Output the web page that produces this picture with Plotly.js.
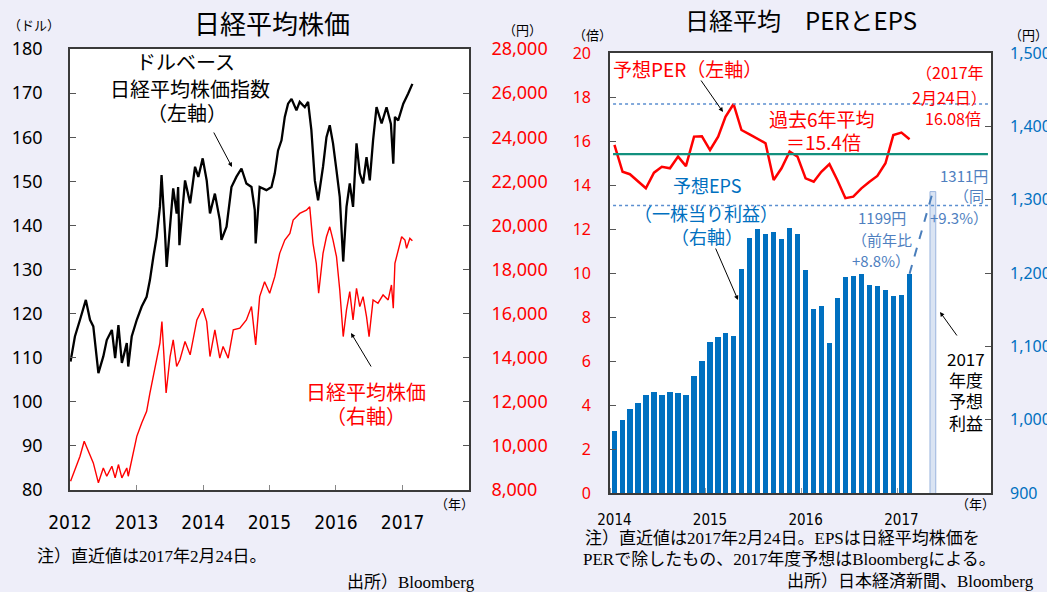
<!DOCTYPE html>
<html><head><meta charset="utf-8">
<script src="https://cdn.plot.ly/plotly-3.0.1.min.js"></script>
<style>html,body{margin:0;padding:0;background:#eeeef9;}#chart{width:1047px;height:592px;}</style>
</head><body><div id="chart"></div>
<script>
// ---------- Left chart: 日経平均株価 ----------
const usdDates = ['2012-01-04','2012-01-28','2012-02-25','2012-03-28','2012-04-20','2012-05-08','2012-06-05','2012-07-02','2012-07-21','2012-08-18','2012-09-05','2012-09-23','2012-10-12','2012-11-08','2012-11-16','2012-12-05',
'2013-01-02','2013-01-29','2013-02-25','2013-03-15','2013-04-03','2013-04-21','2013-05-09','2013-05-18','2013-06-06','2013-06-15','2013-07-21','2013-08-09','2013-08-17','2013-08-24','2013-09-24','2013-10-22','2013-11-18','2013-12-06','2013-12-30',
'2014-01-21','2014-02-08','2014-03-07','2014-04-03','2014-04-12','2014-05-10','2014-06-06','2014-07-03','2014-07-31','2014-08-27','2014-09-24','2014-10-12','2014-10-17','2014-11-08','2014-12-15',
'2015-01-12','2015-01-30','2015-02-17','2015-03-08','2015-03-26','2015-04-13','2015-05-02','2015-05-29','2015-06-16','2015-07-14','2015-08-01','2015-08-19','2015-09-07','2015-09-25','2015-10-22','2015-11-10','2015-11-28','2015-12-16',
'2016-01-04','2016-01-22','2016-02-10','2016-02-28','2016-03-17','2016-04-04','2016-04-23','2016-05-11','2016-05-29','2016-06-17','2016-07-05','2016-07-23','2016-08-11','2016-09-08','2016-10-05','2016-10-29','2016-11-11','2016-11-20','2016-12-08',
'2017-01-05','2017-02-01','2017-02-24'];
const usdIndex = [109.1,114.8,118.6,123.1,118.6,117.1,106.5,110.3,114,116.3,109.9,117.4,108.8,113.3,108,114.8,
118.6,121.6,123.8,127.6,132.9,137.4,144.2,151.4,138.2,130.6,148.4,142.7,148.7,135.5,150.2,145,153.3,151,155.2,
150.2,142.7,147.2,141.2,136.7,139.7,148.7,151,152.9,149.5,148.7,143.5,135.9,148.7,148,
148.7,151.8,157,159.3,164.6,167.6,168.7,166.1,168,166.8,168,161.6,150.2,145.7,153.3,160,162.7,158.6,
152.5,146.5,131.8,144.2,149.5,144.2,158.6,151.8,149.5,155.5,150.2,159.3,166.8,163.1,166.8,163,154,164.6,163.8,
167.6,169.9,172.1];

const jpyDates = ['2012-01-04','2012-01-28','2012-02-25','2012-03-19','2012-04-20','2012-05-08','2012-06-05','2012-07-02','2012-07-21','2012-08-18','2012-09-05','2012-09-23','2012-10-12','2012-11-08','2012-11-16','2012-12-05',
'2013-01-02','2013-01-29','2013-02-25','2013-03-15','2013-04-03','2013-04-21','2013-05-09','2013-05-20','2013-05-31','2013-06-12','2013-07-04','2013-07-21','2013-08-09','2013-08-27','2013-09-24','2013-10-22','2013-11-28','2013-12-30',
'2014-01-21','2014-02-08','2014-03-07','2014-04-03','2014-04-21','2014-05-19','2014-06-16','2014-07-22','2014-08-27','2014-09-24','2014-10-17','2014-11-08','2014-12-05',
'2015-01-02','2015-01-30','2015-02-26','2015-03-26','2015-04-23','2015-05-11','2015-06-16','2015-07-23','2015-08-10','2015-08-28','2015-09-15','2015-09-28','2015-10-22','2015-11-10','2015-11-28','2015-12-16',
'2016-01-04','2016-01-22','2016-02-10','2016-02-28','2016-03-17','2016-04-04','2016-04-23','2016-05-11','2016-05-29','2016-06-17','2016-07-01','2016-07-23','2016-08-19','2016-09-16','2016-10-14','2016-11-01','2016-11-11','2016-11-20','2016-12-08','2016-12-27',
'2017-01-14','2017-01-23','2017-02-10','2017-02-24'];
const nikkeiJpy = [8398,8928,9529,10208,9529,9231,8326,8998,8624,9077,8552,9154,8552,8998,8624,9380,
10434,11040,11566,12398,13148,13905,14661,15638,13756,12398,14054,14810,13602,13905,14733,14131,15715,16244,
15638,14054,15262,13980,14508,13980,15262,15339,15715,16317,14584,16769,17448,
16923,17674,18733,19335,19638,20240,20543,20692,20842,19186,18281,16923,18733,19484,19936,19335,
18579,17072,14959,16167,16996,15715,17149,16317,16769,15864,14959,16620,16471,16846,16620,17299,16244,18281,18882,19484,
19335,18959,19412,19303];

const leftYearTicks = ['2012','2013','2014','2015','2016','2017'];

// ---------- Right chart: 日経平均 PERとEPS ----------
const months = ['2014-01','2014-02','2014-03','2014-04','2014-05','2014-06','2014-07','2014-08','2014-09','2014-10','2014-11','2014-12',
'2015-01','2015-02','2015-03','2015-04','2015-05','2015-06','2015-07','2015-08','2015-09','2015-10','2015-11','2015-12',
'2016-01','2016-02','2016-03','2016-04','2016-05','2016-06','2016-07','2016-08','2016-09','2016-10','2016-11','2016-12',
'2017-01','2017-02'];
const epsValues = [985,1000,1015,1023,1033,1038,1034,1038,1036,1033,1059,1080,
1106,1113,1118,1114,1206,1248,1260,1253,1256,1246,1261,1253,
1204,1151,1155,1105,1166,1195,1196,1198,1184,1182,1177,1169,
1170,1199];
const perValues = [15.82,14.6,14.49,14.15,13.85,14.56,14.83,14.76,15.29,14.86,16.2,16.21,
15.59,16.2,17.1,17.68,16.5,16.3,16.12,15.9,14.23,14.76,15.52,15.29,
14.3,14.15,14.6,14.95,14.23,13.4,13.47,13.85,14.15,14.41,14.99,16.27,
16.38,16.08];
const forecastMonth = '2017-05';
const forecastEps = 1311;
const perAverage = 15.4;
const epsRefLevel = 1292;
const rightYearTicks = ['2014','2015','2016','2017'];

// ---------- helpers ----------
const W = 1047, H = 592;
const px = x => x / W;
const py = y => 1 - y / H;
const JP = '"Noto Sans CJK JP", "Noto Sans", sans-serif';
const NUM = '"Noto Sans", "Noto Sans CJK JP", sans-serif';
const NOTE = '"Liberation Serif", "Noto Sans CJK JP", serif';
const NARROW = '"Liberation Sans Narrow", "Arial Narrow", "DejaVu Sans Condensed", sans-serif';
const DAY = 86400000;

const annotations = [];
function txt(text, x, y, size, color, xanchor, family) {
  annotations.push({text: text, x: px(x), y: py(y), xref: 'paper', yref: 'paper', showarrow: false,
    xanchor: xanchor || 'center', yanchor: 'middle', font: {family: family || JP, size: size, color: color || '#000'}});
}
function arrow(x1, y1, x2, y2) {
  annotations.push({text: '', x: px(x2), y: py(y2), xref: 'paper', yref: 'paper', showarrow: true,
    ax: x1 - x2, ay: y1 - y2, arrowhead: 2, arrowsize: 0.9, arrowwidth: 1, arrowcolor: '#000'});
}

// titles & units
txt('日経平均株価', 272, 22, 26, '#000');
txt('日経平均　PERとEPS', 801, 19, 24, '#000');
txt('（ドル）', 34, 25, 13, '#000');
txt('（円）', 522, 30, 13, '#000');
txt('（年）', 454, 503, 13, '#000');
txt('（倍）', 592, 35, 13, '#000');
txt('（円）', 1028, 35, 13, '#000');
txt('（年）', 975, 503, 13, '#000');

// left chart labels
txt('ドルベース', 185, 62, 20, '#000');
txt('日経平均株価指数', 190, 88, 20, '#000');
txt('（左軸）', 187, 112, 20, '#000');
arrow(213, 131, 232, 167);
txt('日経平均株価', 366, 391, 20, '#ff0000');
txt('（右軸）', 366, 415, 20, '#ff0000');
arrow(372, 368, 351, 333);

// right chart labels
txt('予想PER（左軸）', 687, 68, 19, '#ff0000');
arrow(700, 79, 723, 112);
txt('（2017年', 986, 72, 16, '#ff0000', 'right');
txt('2月24日）', 989, 97, 16, '#ff0000', 'right');
txt('16.08倍', 983, 118, 16, '#ff0000', 'right');
txt('過去6年平均', 822, 118, 19, '#ff0000');
txt('＝15.4倍', 823, 141, 19, '#ff0000');
txt('予想EPS', 707, 185, 18, '#0070c0');
txt('（一株当り利益）', 706, 213, 18, '#0070c0');
txt('（右軸）', 707, 236, 18, '#0070c0');
arrow(715, 247, 738, 300);
txt('1199円', 882, 218, 15, '#4f7fbf');
txt('（前年比', 882, 239, 15, '#4f7fbf');
txt('+8.8%）', 881, 260, 15, '#4f7fbf');
txt('1311円', 990, 175, 15, '#4f7fbf', 'right');
txt('（同', 986, 195, 15, '#4f7fbf', 'right');
txt('+9.3%）', 990, 217, 15, '#4f7fbf', 'right');
txt('2017', 966, 358, 17, '#000');
txt('年度', 966, 379, 17, '#000');
txt('予想', 966, 400, 17, '#000');
txt('利益', 966, 422, 17, '#000');
arrow(958, 337, 940, 312);

// notes
txt('注）直近値は2017年2月24日。', 35, 556, 17, '#000', 'left', NOTE);
txt('出所）Bloomberg', 345, 582, 17, '#000', 'left', NOTE);
txt('注）直近値は2017年2月24日。EPSは日経平均株価を', 583, 538, 17, '#000', 'left', NOTE);
txt('PERで除したもの、2017年度予想はBloombergによる。', 581, 559, 17, '#000', 'left', NOTE);
txt('出所）日本経済新聞、Bloomberg', 1036, 581, 17, '#000', 'right', NOTE);

const monthDates = months.map(m => m + '-01');
const lastIdx = months.length - 1;

const traces = [
  {type: 'scatter', mode: 'lines', x: jpyDates, y: nikkeiJpy, xaxis: 'x', yaxis: 'y2',
   line: {color: '#ff0000', width: 1.4}, hoverinfo: 'skip'},
  {type: 'scatter', mode: 'lines', x: usdDates, y: usdIndex, xaxis: 'x', yaxis: 'y',
   line: {color: '#000000', width: 2.3}, hoverinfo: 'skip'},
  {type: 'bar', x: monthDates, y: epsValues, xaxis: 'x2', yaxis: 'y4',
   marker: {color: '#0070c0'}, width: 21 * DAY, hoverinfo: 'skip'},
  {type: 'bar', x: [forecastMonth + '-01'], y: [forecastEps], xaxis: 'x2', yaxis: 'y4',
   marker: {color: '#dae4f3', line: {color: '#9bb5de', width: 1}}, width: 22 * DAY, hoverinfo: 'skip'},
  {type: 'scatter', mode: 'lines', x: [monthDates[lastIdx], forecastMonth + '-01'], y: [epsValues[lastIdx], forecastEps],
   xaxis: 'x2', yaxis: 'y4', line: {color: '#4a7ebb', width: 2, dash: 'dash'}, hoverinfo: 'skip'},
  {type: 'scatter', mode: 'lines', x: monthDates, y: perValues, xaxis: 'x2', yaxis: 'y3',
   line: {color: '#ff0000', width: 2.5}, hoverinfo: 'skip'}
];

const shapes = [
  {type: 'line', xref: 'x2 domain', x0: 0.008, x1: 0.992, yref: 'y3', y0: perAverage, y1: perAverage,
   line: {color: '#12907e', width: 2.2}},
  {type: 'line', xref: 'x2 domain', x0: 0.008, x1: 0.992, yref: 'y3', y0: Math.max(...perValues), y1: Math.max(...perValues),
   line: {color: '#5b8fd0', width: 1.6, dash: 'dot'}},
  {type: 'line', xref: 'x2 domain', x0: 0.008, x1: 0.992, yref: 'y4', y0: epsRefLevel, y1: epsRefLevel,
   line: {color: '#5b8fd0', width: 1.6, dash: 'dot'}}
];

const LINE = '#3a3a3a';
const layout = {
  width: W, height: H,
  margin: {l: 0, r: 0, t: 0, b: 0},
  paper_bgcolor: '#eeeef9', plot_bgcolor: '#ffffff',
  showlegend: false,
  xaxis: {domain: [px(70), px(469)], anchor: 'y', type: 'date', range: ['2012-01-01', '2018-01-01'],
    tickvals: leftYearTicks.map(y => y + '-01-01'), ticktext: leftYearTicks,
    ticks: 'inside', ticklen: 5, tickcolor: '#888', showgrid: false, zeroline: false,
    showline: true, linecolor: LINE, linewidth: 1.8, mirror: true,
    tickfont: {family: NARROW, size: 19, color: '#000'}, ticklabelstandoff: 14},
  yaxis: {domain: [py(490), py(49)], anchor: 'x', range: [80, 180], dtick: 10,
    ticks: 'inside', ticklen: 6, tickcolor: '#555', showgrid: false, zeroline: false,
    showline: true, linecolor: LINE, linewidth: 1.8,
    tickfont: {family: NUM, size: 18, color: '#000'}, ticklabelstandoff: 22},
  yaxis2: {overlaying: 'y', side: 'right', anchor: 'x', range: [8000, 28000], dtick: 2000, tickformat: ',d',
    ticks: 'inside', ticklen: 6, tickcolor: '#555', showgrid: false, zeroline: false,
    showline: true, linecolor: LINE, linewidth: 1.8,
    tickfont: {family: NUM, size: 18, color: '#ff0000'}, ticklabelstandoff: 17},
  xaxis2: {domain: [px(610), px(991)], anchor: 'y3', type: 'date', range: ['2013-12-15', '2017-12-09'],
    tickvals: rightYearTicks.map(y => y + '-01-01'), ticktext: rightYearTicks,
    ticks: '', showgrid: false, zeroline: false,
    minor: {tick0: '2013-12-16', dtick: 'M12', ticks: 'inside', ticklen: 5, tickcolor: '#999', showgrid: false},
    showline: true, linecolor: LINE, linewidth: 1.8, mirror: true,
    tickfont: {family: NARROW, size: 15, color: '#000'}, ticklabelstandoff: 12},
  yaxis3: {domain: [py(493), py(53)], anchor: 'x2', range: [0, 20], dtick: 2,
    ticks: 'inside', ticklen: 6, tickcolor: '#555', showgrid: false, zeroline: false,
    showline: true, linecolor: LINE, linewidth: 1.8,
    tickfont: {family: NUM, size: 16, color: '#ff0000'}, ticklabelstandoff: 14},
  yaxis4: {overlaying: 'y3', side: 'right', anchor: 'x2', range: [900, 1500], dtick: 100, tickformat: ',d',
    ticks: 'inside', ticklen: 6, tickcolor: '#555', showgrid: false, zeroline: false,
    showline: true, linecolor: LINE, linewidth: 1.8,
    tickfont: {family: NUM, size: 16, color: '#0070c0'}, ticklabelstandoff: 14},
  bargap: 0,
  barmode: 'overlay',
  shapes: shapes,
  annotations: annotations
};

Plotly.newPlot('chart', traces, layout, {displayModeBar: false, staticPlot: true});
</script>
</body></html>
